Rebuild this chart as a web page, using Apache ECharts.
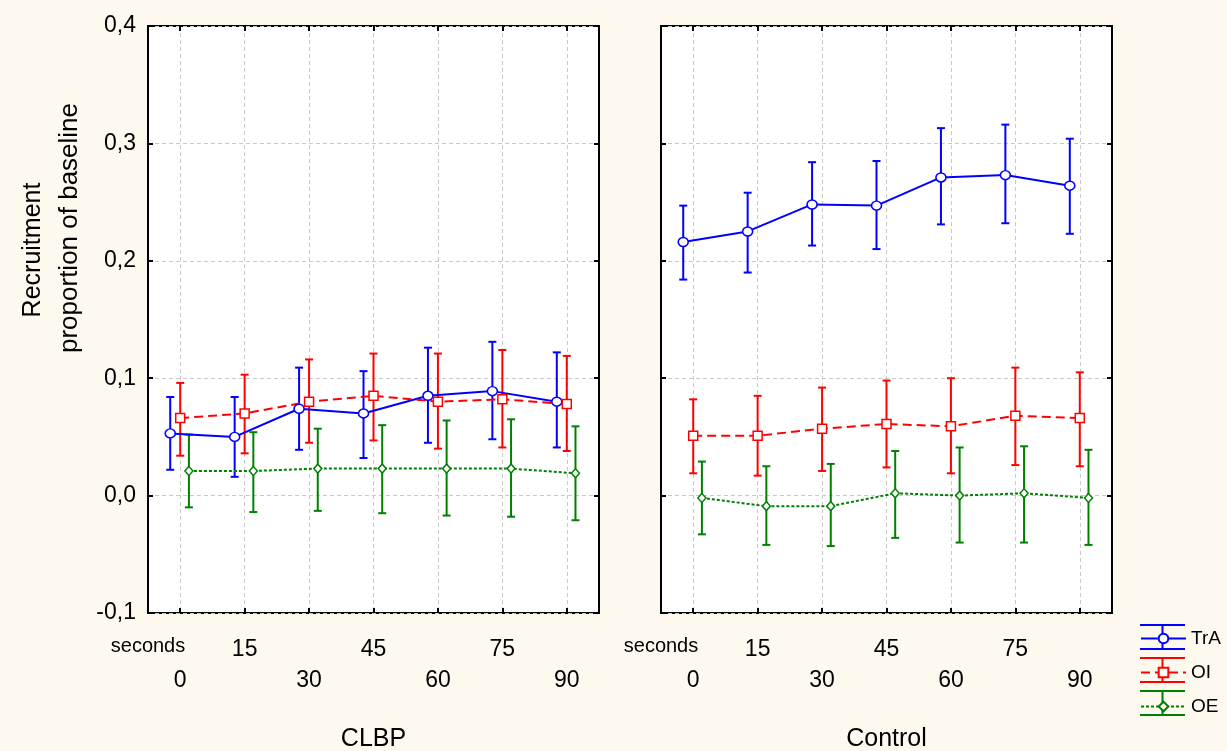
<!DOCTYPE html>
<html>
<head>
<meta charset="utf-8">
<script src="https://cdn.jsdelivr.net/npm/echarts@6/dist/echarts.min.js"></script>
<style>
  html, body { margin: 0; padding: 0; background: #fef9ef; }
  #chart-box { width: 1227px; height: 751px; }
</style>
</head>
<body>
<div id="chart-box"></div>
<script>
const seconds = ['0', '15', '30', '45', '60', '75', '90'];
const panels = ['CLBP', 'Control'];
const groups = ['TrA', 'OI', 'OE'];

// CLBP means and error bar ends
const clbpTrA = [0.053, 0.050, 0.074, 0.070, 0.085, 0.089, 0.080];
const clbpTrALow = [0.022, 0.016, 0.039, 0.032, 0.045, 0.048, 0.041];
const clbpTrAHigh = [0.084, 0.084, 0.109, 0.106, 0.126, 0.131, 0.122];
const clbpOI = [0.066, 0.070, 0.080, 0.085, 0.080, 0.082, 0.078];
const clbpOILow = [0.034, 0.036, 0.045, 0.047, 0.040, 0.041, 0.038];
const clbpOIHigh = [0.096, 0.103, 0.116, 0.121, 0.121, 0.124, 0.119];
const clbpOE = [0.021, 0.021, 0.023, 0.023, 0.023, 0.023, 0.019];
const clbpOELow = [-0.010, -0.014, -0.013, -0.015, -0.017, -0.018, -0.021];
const clbpOEHigh = [0.052, 0.054, 0.057, 0.060, 0.064, 0.065, 0.059];

// Control means and error bar ends
const ctrlTrA = [0.216, 0.225, 0.248, 0.247, 0.271, 0.273, 0.264];
const ctrlTrALow = [0.184, 0.190, 0.213, 0.210, 0.231, 0.232, 0.223];
const ctrlTrAHigh = [0.247, 0.258, 0.284, 0.285, 0.313, 0.316, 0.304];
const ctrlOI = [0.051, 0.051, 0.057, 0.061, 0.059, 0.068, 0.066];
const ctrlOILow = [0.019, 0.017, 0.021, 0.024, 0.019, 0.026, 0.025];
const ctrlOIHigh = [0.082, 0.085, 0.092, 0.098, 0.100, 0.109, 0.105];
const ctrlOE = [-0.002, -0.009, -0.009, 0.002, 0.000, 0.002, -0.002];
const ctrlOELow = [-0.033, -0.042, -0.043, -0.036, -0.040, -0.040, -0.042];
const ctrlOEHigh = [0.029, 0.025, 0.027, 0.038, 0.041, 0.042, 0.039];

const yTicks = { min: -0.1, max: 0.4, interval: 0.1 };

function init(){
    const element = document.getElementById('chart-box');
    const instance = echarts.init(element);

    const font = 'Liberation Sans';
    const colors = { TrA: '#0000ff', OI: '#ff0000', OE: '#008000' };
    const dodge = { TrA: -0.155, OI: 0, OE: 0.135 };
    const symbols = {
        TrA: { symbol: 'circle', size: [10, 9] },
        OI: { symbol: 'rect', size: [9, 9] },
        OE: { symbol: 'diamond', size: [8, 9] }
    };
    const lineTypes = { TrA: 'solid', OI: [9, 5], OE: [3, 2] };

    const data = [
        { TrA: [clbpTrA, clbpTrALow, clbpTrAHigh], OI: [clbpOI, clbpOILow, clbpOIHigh], OE: [clbpOE, clbpOELow, clbpOEHigh] },
        { TrA: [ctrlTrA, ctrlTrALow, ctrlTrAHigh], OI: [ctrlOI, ctrlOILow, ctrlOIHigh], OE: [ctrlOE, ctrlOELow, ctrlOEHigh] }
    ];

    const gridLeft = [148, 661];
    const grids = gridLeft.map(l => ({
        left: l, top: 26, width: 451, height: 587,
        outerBoundsMode: 'none', containLabel: false,
        show: true, backgroundColor: '#fff', borderColor: '#000', borderWidth: 2
    }));

    const gridLine = { show: true, lineStyle: { color: '#c8c8c8', type: [4, 3], width: 1 } };
    const tick = { show: true, inside: true, length: 5, lineStyle: { color: '#000', width: 2 } };
    const xAxis = [];
    const yAxis = [];
    panels.forEach((name, p) => {
        // labelled category axis, bottom
        xAxis.push({
            type: 'category', gridIndex: p, data: seconds, position: 'bottom',
            boundaryGap: true,
            name: name, nameLocation: 'middle', nameGap: 114,
            nameTextStyle: { fontFamily: font, fontSize: 25, color: '#000' },
            axisLine: { show: false, onZero: false },
            axisTick: Object.assign({ alignWithLabel: true }, tick),
            splitLine: Object.assign({ alignWithLabel: true }, gridLine),
            axisLabel: {
                interval: 0, margin: 21, fontFamily: font, fontSize: 23, color: '#000', lineHeight: 31,
                formatter: (v, i) => i % 2 === 0 ? '\n' + v : v + '\n'
            }
        });
        // tick marks on top edge
        xAxis.push({
            type: 'category', gridIndex: p, data: seconds, position: 'top',
            axisLine: { show: false, onZero: false }, axisLabel: { show: false }, splitLine: { show: false },
            axisTick: Object.assign({ alignWithLabel: true }, tick)
        });
        // value axis that places the dodged marks
        xAxis.push({
            type: 'value', gridIndex: p, min: -0.5, max: 6.5, show: false,
            axisLine: { onZero: false }
        });
        yAxis.push({
            type: 'value', gridIndex: p, position: 'left',
            min: yTicks.min, max: yTicks.max, interval: yTicks.interval,
            axisLine: { show: false, onZero: false },
            axisTick: tick,
            splitLine: gridLine,
            axisLabel: {
                show: p === 0, margin: 12, fontFamily: font, fontSize: 23, color: '#000',
                formatter: v => v.toFixed(1).replace('.', ',')
            }
        });
        yAxis.push({
            type: 'value', gridIndex: p, position: 'right',
            min: yTicks.min, max: yTicks.max, interval: yTicks.interval,
            axisLine: { show: false, onZero: false }, axisLabel: { show: false }, splitLine: { show: false },
            axisTick: tick
        });
    });

    const series = [];
    panels.forEach((name, p) => {
        groups.forEach(g => {
            const [mean, low, high] = data[p][g];
            const points = mean.map((v, i) => [i + dodge[g], v, low[i], high[i]]);
            series.push({
                name: g + ' ',
                type: 'custom',
                xAxisIndex: p * 3 + 2, yAxisIndex: p * 2,
                data: points,
                z: 3,
                itemStyle: { color: colors[g] },
                renderItem: function(params, api){
                    const x = api.value(0);
                    const top = api.coord([x, api.value(3)]);
                    const bot = api.coord([x, api.value(2)]);
                    const half = 4;
                    const style = { stroke: colors[g], lineWidth: 2, fill: null };
                    return {
                        type: 'group',
                        children: [
                            { type: 'line', shape: { x1: top[0], y1: top[1], x2: bot[0], y2: bot[1] }, style: style },
                            { type: 'line', shape: { x1: top[0] - half, y1: top[1], x2: top[0] + half, y2: top[1] }, style: style },
                            { type: 'line', shape: { x1: bot[0] - half, y1: bot[1], x2: bot[0] + half, y2: bot[1] }, style: style }
                        ]
                    };
                }
            });
            series.push({
                name: g,
                type: 'line',
                xAxisIndex: p * 3 + 2, yAxisIndex: p * 2,
                data: points.map(d => [d[0], d[1]]),
                z: 4,
                symbol: symbols[g].symbol,
                symbolSize: symbols[g].size,
                showAllSymbol: true,
                lineStyle: { color: colors[g], width: 2, type: lineTypes[g] },
                itemStyle: { color: '#fff', borderColor: colors[g], borderWidth: 1.5 },
                emphasis: { disabled: true },
                animation: false
            });
        });
    });

    let option = {
        backgroundColor: '#fef9ef',
        animation: false,
        grid: grids,
        xAxis: xAxis,
        yAxis: yAxis,
        legend: [
            {
                data: groups.map(g => g + ' '),
                orient: 'vertical', left: 1135, top: 619,
                itemWidth: 45, itemHeight: 26, itemGap: 7,
                icon: 'path://M0,0H45V2H0Z M21.5,2H23.5V24H21.5Z M0,24H45V26H0Z',
                formatter: () => '',
                textStyle: { fontSize: 1, lineHeight: 1 },
                selectedMode: false
            },
            {
                data: groups,
                orient: 'vertical', left: 1135, top: 624,
                itemWidth: 45, itemHeight: 12, itemGap: 15,
                textStyle: { fontFamily: font, fontSize: 19, color: '#000', lineHeight: 12 },
                selectedMode: false
            }
        ],
        graphic: [
            { type: 'text', x: 33, y: 250, rotation: Math.PI / 2,
              style: { text: 'Recruitment', font: '25px "Liberation Sans"', fill: '#000', align: 'center', verticalAlign: 'middle' } },
            { type: 'text', x: 70, y: 228, rotation: Math.PI / 2,
              style: { text: 'proportion of baseline', font: '26px "Liberation Sans"', fill: '#000', align: 'center', verticalAlign: 'middle' } },
            { type: 'text', x: gridLeft[0], y: 646,
              style: { text: 'seconds', font: '20px "Liberation Sans"', fill: '#000', align: 'center', verticalAlign: 'middle' } },
            { type: 'text', x: gridLeft[1], y: 646,
              style: { text: 'seconds', font: '20px "Liberation Sans"', fill: '#000', align: 'center', verticalAlign: 'middle' } }
        ],
        series: series
    };

    instance && instance.setOption(option);

    window.onresize = function(){
        instance.resize();
    };
}
init();
</script>
</body>
</html>
